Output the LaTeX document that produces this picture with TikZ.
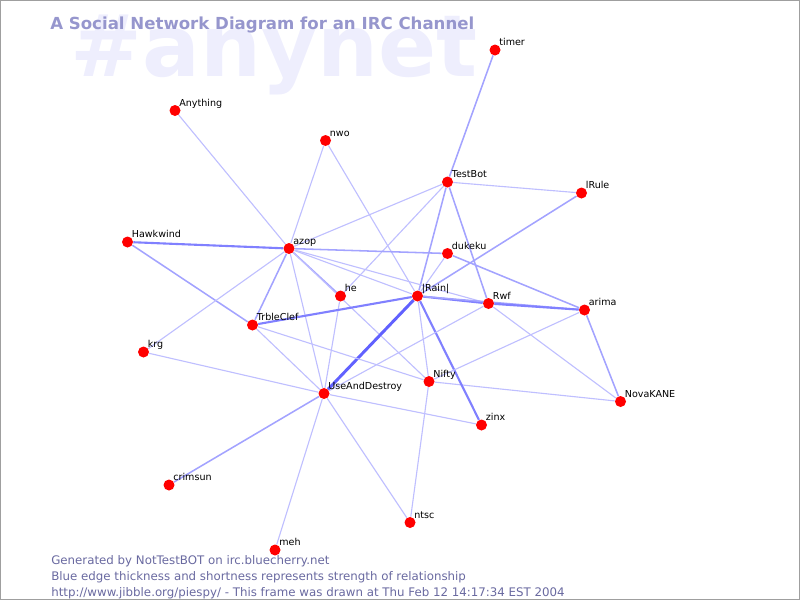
\documentclass[tikz,border=0pt]{standalone}
\usepackage{fontspec}
\setmainfont{DejaVu Sans}
\usetikzlibrary{backgrounds}
\definecolor{nodered}{RGB}{255,0,0}
\definecolor{titleblue}{RGB}{150,150,205}
\definecolor{footblue}{RGB}{105,105,160}
\definecolor{markblue}{RGB}{238,238,253}

\begin{document}
\begin{tikzpicture}[x=0.025cm, y=-0.025cm,
    user/.style={circle, fill=nodered, inner sep=0pt, minimum size=0.275cm},
    lbl/.style={font=\fontsize{6.8}{7}\selectfont, inner sep=0pt, anchor=base west},
    txt/.style={inner sep=0pt, anchor=base west},
    weak/.style={draw=blue!25, line width=0.8pt},
    mid/.style={draw=blue!36, line width=1.1pt},
    strong/.style={draw=blue!50, line width=1.5pt},
    strongest/.style={draw=blue!62, line width=2.1pt}]
    \useasboundingbox (0,0) rectangle (800,600);

    % Users
    \node[user, label={[lbl]45:timer}] (timer) at (495,50) {};
    \node[user, label={[lbl]45:Anything}] (anything) at (175,110.5) {};
    \node[user, label={[lbl]45:nwo}] (nwo) at (325.5,140.5) {};
    \node[user, label={[lbl]45:TestBot}] (testbot) at (447.5,182) {};
    \node[user, label={[lbl]45:lRule}] (irule) at (581.5,193) {};
    \node[user, label={[lbl]45:Hawkwind}] (hawkwind) at (127.5,242) {};
    \node[user, label={[lbl]45:azop}] (azop) at (289,248.5) {};
    \node[user, label={[lbl]45:dukeku}] (dukeku) at (447.5,253.5) {};
    \node[user, label={[lbl]45:he}] (he) at (340.5,296) {};
    \node[user, label={[lbl]45:|Rain|}] (rain) at (417.5,296) {};
    \node[user, label={[lbl]45:Rwf}] (rwf) at (488.5,303.5) {};
    \node[user, label={[lbl]45:arima}] (arima) at (584.5,310) {};
    \node[user, label={[lbl]45:TrbleClef}] (trbleclef) at (252.5,325) {};
    \node[user, label={[lbl]45:krg}] (krg) at (143.5,352) {};
    \node[user, label={[lbl]45:Nifty}] (nifty) at (429,381.5) {};
    \node[user, label={[lbl]45:UseAndDestroy}] (useanddestroy) at (324,393.5) {};
    \node[user, label={[lbl]45:NovaKANE}] (novakane) at (620.5,401.5) {};
    \node[user, label={[lbl]45:zinx}] (zinx) at (481.5,425) {};
    \node[user, label={[lbl]45:crimsun}] (crimsun) at (169,485) {};
    \node[user, label={[lbl]45:ntsc}] (ntsc) at (410,522.5) {};
    \node[user, label={[lbl]45:meh}] (meh) at (275,550) {};

    % Title and footer
    \node[txt, font=\fontsize{11.8}{12}\selectfont\bfseries, text=titleblue] (title) at (50,29) {A Social Network Diagram for an IRC Channel};
    \node[txt, font=\fontsize{8.4}{9}\selectfont, text=footblue] (foot1) at (51,564) {Generated by NotTestBOT on irc.bluecherry.net};
    \node[txt, font=\fontsize{8.4}{9}\selectfont, text=footblue] (foot2) at (51,580) {Blue edge thickness and shortness represents strength of relationship};
    \node[txt, font=\fontsize{8.4}{9}\selectfont, text=footblue] (foot3) at (51,596) {http://www.jibble.org/piespy/ - This frame was drawn at Thu Feb 12 14:17:34 EST 2004};

    \begin{scope}[on background layer]
    % Channel name
    \node[txt, font=\fontsize{61}{61}\selectfont\bfseries, text=markblue] (channel) at (70,76) {\#anynet};

    % Edges
    \draw[mid] (timer) -- (testbot);
    \draw[weak] (anything) -- (azop);
    \draw[weak] (nwo) -- (azop);
    \draw[weak] (nwo) -- (rain);
    \draw[strong] (hawkwind) -- (azop);
    \draw[mid] (hawkwind) -- (trbleclef);
    \draw[weak] (krg) -- (azop);
    \draw[weak] (krg) -- (useanddestroy);
    \draw[mid] (crimsun) -- (useanddestroy);
    \draw[weak] (meh) -- (useanddestroy);
    \draw[weak] (ntsc) -- (useanddestroy);
    \draw[weak] (ntsc) -- (nifty);
    \draw[weak] (irule) -- (testbot);
    \draw[mid] (irule) -- (rain);
    \draw[mid] (novakane) -- (arima);
    \draw[weak] (novakane) -- (rwf);
    \draw[weak] (novakane) -- (nifty);
    \draw[strong] (zinx) -- (rain);
    \draw[weak] (zinx) -- (useanddestroy);
    \draw[weak] (testbot) -- (azop);
    \draw[weak] (testbot) -- (he);
    \draw[mid] (testbot) -- (rain);
    \draw[mid] (testbot) -- (rwf);
    \draw[mid] (azop) -- (dukeku);
    \draw[mid] (azop) -- (he);
    \draw[weak] (azop) -- (rain);
    \draw[weak] (azop) -- (rwf);
    \draw[weak] (azop) -- (nifty);
    \draw[mid] (azop) -- (trbleclef);
    \draw[weak] (azop) -- (useanddestroy);
    \draw[weak] (dukeku) -- (rain);
    \draw[mid] (dukeku) -- (arima);
    \draw[weak] (he) -- (useanddestroy);
    \draw[strong] (rain) -- (trbleclef);
    \draw[strongest] (rain) -- (useanddestroy);
    \draw[strong] (rain) -- (rwf);
    \draw[weak] (rain) -- (nifty);
    \draw[mid] (rain) -- (arima);
    \draw[strong] (rwf) -- (arima);
    \draw[weak] (rwf) -- (useanddestroy);
    \draw[weak] (arima) -- (nifty);
    \draw[weak] (trbleclef) -- (useanddestroy);
    \draw[weak] (trbleclef) -- (nifty);
    \end{scope}

    % Frame
    \draw[gray!75, line width=0.7pt] (0.5,0.5) rectangle (799.5,599.5);
\end{tikzpicture}
\end{document}
